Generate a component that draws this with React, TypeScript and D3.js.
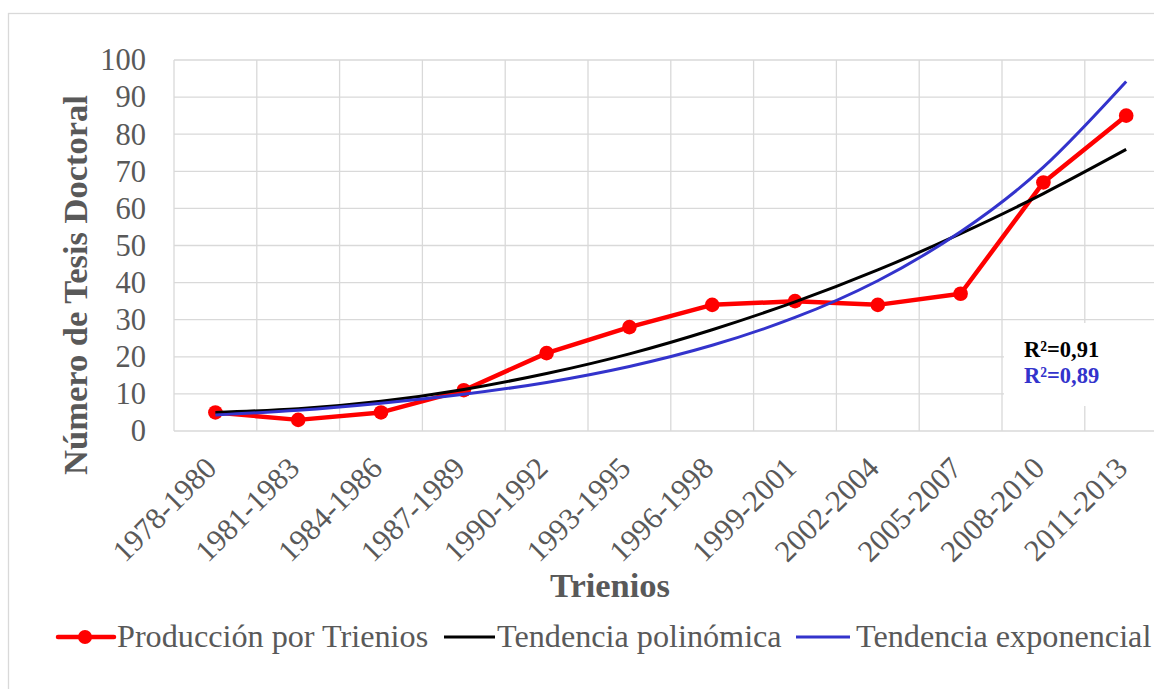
import React from "react";
import * as d3 from "d3";

const categories = [
  "1978-1980", "1981-1983", "1984-1986", "1987-1989", "1990-1992", "1993-1995",
  "1996-1998", "1999-2001", "2002-2004", "2005-2007", "2008-2010", "2011-2013",
];
const produccion = [5, 3, 5, 11, 21, 28, 34, 35, 34, 37, 67, 85];
const tendenciaPolinomica = [5.0, 6.0, 8.0, 11.2, 15.5, 20.8, 27.3, 34.8, 43.4, 53.2, 64.0, 75.9];
const tendenciaExponencial = [4.3, 5.6, 7.5, 9.9, 13.1, 17.4, 23.1, 30.6, 40.5, 53.7, 71.1, 94.2];
const yTicks = [0, 10, 20, 30, 40, 50, 60, 70, 80, 90, 100];
const legendItems = ["Producción por Trienios", "Tendencia polinómica", "Tendencia exponencial"];
const r2Labels = ["0,91", "0,89"];

const W = 1154;
const H = 689;
const FONT = "'Liberation Serif', 'Times New Roman', serif";
const GRID = "#D9D9D9";
const TXT = "#595959";
const RED = "#FF0000";
const BLUE = "#3333CC";

export default function App() {
  const x = d3.scaleBand<string>().domain(categories).range([174, 1167.6]);
  const y = d3.scaleLinear().domain([0, 100]).range([431, 60]);
  const cx = (c: string) => (x(c) as number) + x.bandwidth() / 2;

  const straight = d3
    .line<number>()
    .x((_, i) => cx(categories[i]))
    .y((d) => y(d));
  const smooth = d3
    .line<number>()
    .x((_, i) => cx(categories[i]))
    .y((d) => y(d))
    .curve(d3.curveNatural);

  const bandEdges = categories.map((c) => x(c) as number).concat([x.range()[1]]);

  return (
    <svg
      width={W}
      height={H}
      style={{ position: "absolute", left: 0, top: 0, display: "block", background: "#fff" }}
      fontFamily={FONT}
    >
      {/* chart frame */}
      <rect x={8.5} y={13.5} width={1200} height={720} fill="#fff" stroke={GRID} strokeWidth={1.3} />

      {/* gridlines */}
      {yTicks.map((t) => (
        <line key={"h" + t} x1={174} x2={x.range()[1]} y1={y(t)} y2={y(t)} stroke={GRID} strokeWidth={1.3} />
      ))}
      {bandEdges.map((e, i) => (
        <line key={"v" + i} x1={e} x2={e} y1={y(100)} y2={y(0)} stroke={GRID} strokeWidth={1.3} />
      ))}

      {/* label box for R² */}
      <rect x={1004} y={323} width={200} height={83} fill="#fff" />
      <text x={1024} y={357} fontSize={22.5} fontWeight="bold" fill="#000">
        R²={r2Labels[0]}
      </text>
      <text x={1024} y={383} fontSize={22.5} fontWeight="bold" fill={BLUE}>
        R²={r2Labels[1]}
      </text>

      {/* y ticks */}
      {yTicks.map((t) => (
        <text key={"yt" + t} x={146} y={y(t)} dy="0.34em" textAnchor="end" fontSize={30.5} fill={TXT}>
          {t}
        </text>
      ))}

      {/* x ticks */}
      {categories.map((c) => (
        <text
          key={"xt" + c}
          transform={`translate(${cx(c) + 3},${470}) rotate(-45)`}
          textAnchor="end"
          fontSize={30.5}
          fill={TXT}
        >
          {c}
        </text>
      ))}

      {/* axis titles */}
      <text x={610} y={597} textAnchor="middle" fontSize={34.5} fontWeight="bold" fill={TXT}>
        Trienios
      </text>
      <text
        transform={`translate(87,285) rotate(-90)`}
        textAnchor="middle"
        fontSize={34.5}
        fontWeight="bold"
        fill={TXT}
      >
        Número de Tesis Doctoral
      </text>

      {/* series */}
      <path d={straight(produccion) as string} fill="none" stroke={RED} strokeWidth={4.5} strokeLinejoin="round" />
      {produccion.map((v, i) => (
        <circle key={"p" + i} cx={cx(categories[i])} cy={y(v)} r={7.3} fill={RED} />
      ))}
      <path d={smooth(tendenciaPolinomica) as string} fill="none" stroke="#000" strokeWidth={3} />
      <path d={smooth(tendenciaExponencial) as string} fill="none" stroke={BLUE} strokeWidth={3} />

      {/* legend */}
      <line x1={58} x2={114} y1={637} y2={637} stroke={RED} strokeWidth={4.5} strokeLinecap="round" />
      <circle cx={85} cy={637} r={7} fill={RED} />
      <text x={117} y={647} fontSize={32.2} fill={TXT}>
        {legendItems[0]}
      </text>
      <line x1={444} x2={495} y1={637} y2={637} stroke="#000" strokeWidth={3} />
      <text x={497} y={647} fontSize={32.2} fill={TXT}>
        {legendItems[1]}
      </text>
      <line x1={796} x2={850} y1={637} y2={637} stroke={BLUE} strokeWidth={3} />
      <text x={856} y={647} fontSize={32.2} fill={TXT}>
        {legendItems[2]}
      </text>
    </svg>
  );
}
